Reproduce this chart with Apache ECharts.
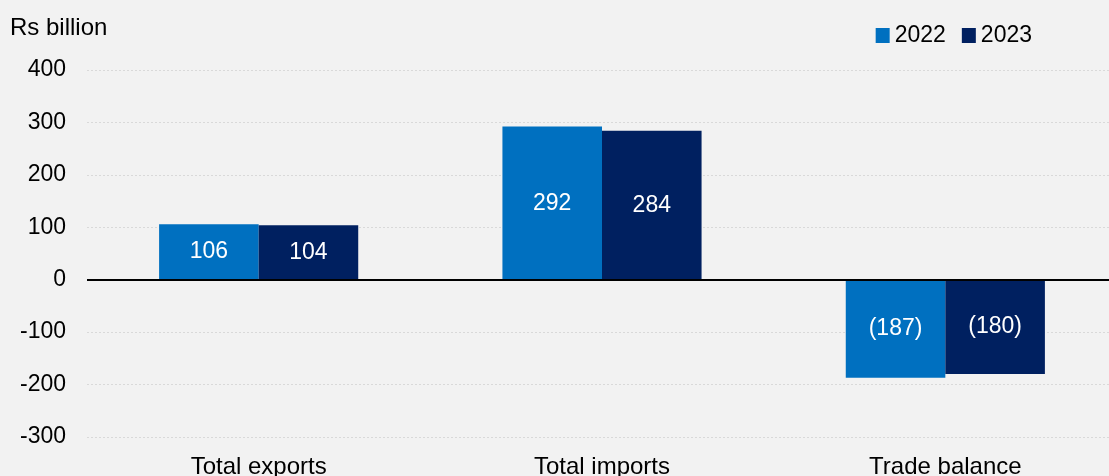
<!DOCTYPE html>
<html>
<head>
<meta charset="utf-8">
<script src="https://cdn.jsdelivr.net/npm/echarts@6/dist/echarts.min.js"></script>
<style>
  html, body { margin: 0; padding: 0; background: #f2f2f2; }
  #main { width: 1109px; height: 476px; }
</style>
</head>
<body>
<div id="main"></div>
<script>
var categories = ['Total exports', 'Total imports', 'Trade balance'];
var values2022 = [106, 292, -187];
var values2023 = [104, 284, -180];
var yTicks = { min: -300, max: 400, interval: 100 };

var font = '"Liberation Sans", Arial, sans-serif';
var fs = 23;

function barLabel(p) {
  return p.value < 0 ? '(' + Math.abs(p.value) + ')' : String(p.value);
}

var chartDom = document.getElementById('main');
var myChart = echarts.init(chartDom);
var option;
option = {
  backgroundColor: '#f2f2f2',
  animation: false,
  textStyle: { fontFamily: font },
  title: {
    text: 'Rs billion',
    left: 5,
    top: 11,
    textStyle: { fontFamily: font, fontSize: 24, fontWeight: 'normal', color: '#000' }
  },
  legend: {
    right: 72,
    top: 19,
    itemWidth: 14,
    itemHeight: 15,
    itemGap: 16,
    icon: 'rect',
    textStyle: { fontFamily: font, fontSize: fs, color: '#000' },
    data: ['2022', '2023']
  },
  grid: {
    left: 87,
    right: -8,
    top: 70,
    bottom: 39,
    containLabel: false,
    outerBoundsMode: 'none'
  },
  xAxis: {
    type: 'category',
    data: categories,
    axisLine: { show: false, onZero: false },
    axisTick: { show: false },
    axisLabel: { margin: 18, fontFamily: font, fontSize: 24, color: '#000' }
  },
  yAxis: {
    type: 'value',
    min: yTicks.min,
    max: yTicks.max,
    interval: yTicks.interval,
    axisLine: { show: false },
    axisTick: { show: false },
    axisLabel: { margin: 21, fontFamily: font, fontSize: fs, color: '#000' },
    splitLine: { lineStyle: { color: '#d9d9d9', type: [2, 2], width: 1 } }
  },
  series: [
    {
      name: '2022',
      type: 'bar',
      data: values2022,
      barGap: '0%',
      barCategoryGap: '42%',
      itemStyle: { color: '#0070c0' },
      label: { show: true, position: 'inside', color: '#fff', fontFamily: font, fontSize: fs, formatter: barLabel },
      markLine: {
        silent: true,
        symbol: 'none',
        label: { show: false },
        lineStyle: { color: '#000', width: 2, type: 'solid' },
        data: [{ yAxis: 0 }]
      }
    },
    {
      name: '2023',
      type: 'bar',
      data: values2023,
      barGap: '0%',
      barCategoryGap: '42%',
      itemStyle: { color: '#002060' },
      label: { show: true, position: 'inside', color: '#fff', fontFamily: font, fontSize: fs, formatter: barLabel }
    }
  ]
};

option && myChart.setOption(option);
</script>
</body>
</html>
